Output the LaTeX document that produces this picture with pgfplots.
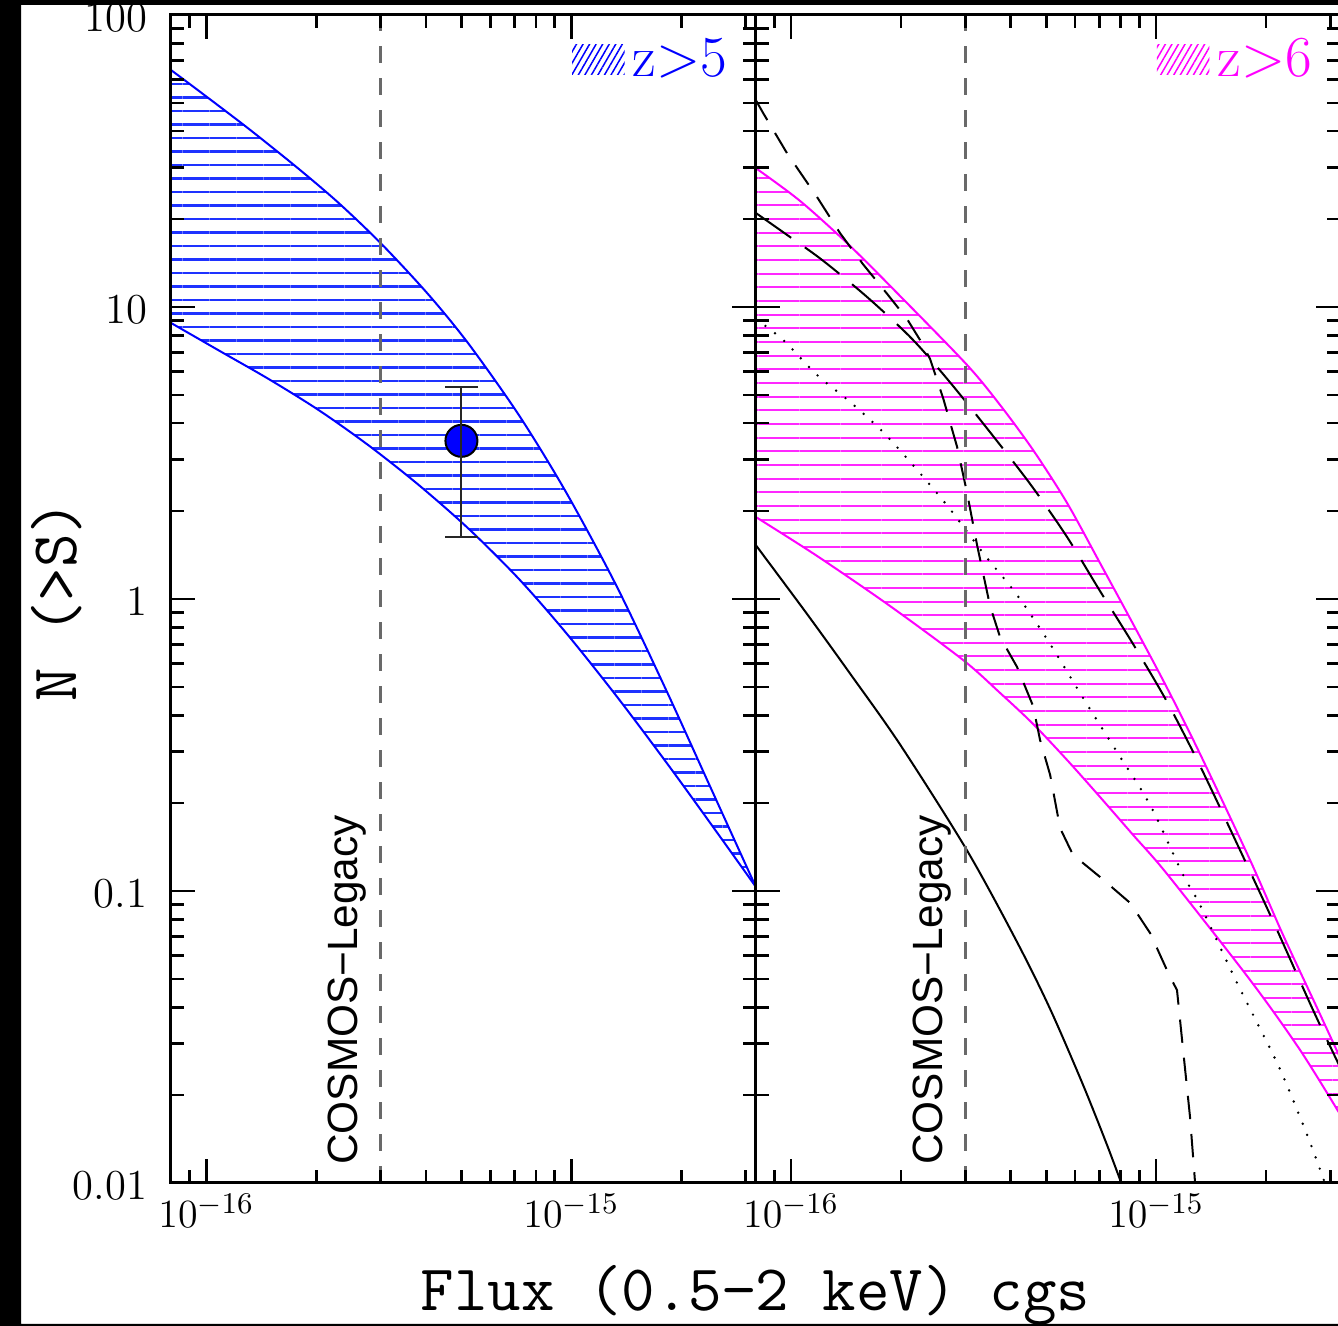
\documentclass[border=0pt]{standalone}
\usepackage{fontspec}
\newfontfamily\cosmosfont{Liberation Sans}
\usepackage{pgfplots}
\pgfplotsset{compat=1.18}
\usetikzlibrary{patterns.meta}

\definecolor{bandblue}{RGB}{0,0,255}
\definecolor{hatchblue}{RGB}{30,50,255}
\definecolor{bandmag}{RGB}{255,0,255}
\definecolor{hatchmag}{RGB}{255,40,255}
\definecolor{limgray}{RGB}{105,105,105}

\tikzset{
  cosmoslabel/.style={rotate=90, anchor=base west, inner sep=0pt,
    font=\cosmosfont\fontsize{12.7}{14}\selectfont},
  zlabeltext/.style={anchor=base east, inner sep=0pt, font=\fontsize{17.4}{20}\selectfont},
}

% band boundaries (flux, N(>S))
\pgfplotstableread{
x         y
8e-17     64.8
9.57e-17  54.8
1.312e-16 40.6
1.798e-16 29.6
2.314e-16 22.6
3.035e-16 16.33
4.083e-16 10.94
5.255e-16 7.42
7.20e-16  4.246
9.69e-16  2.312
1.329e-15 1.110
1.820e-15 0.487
2.388e-15 0.2311
3.2e-15   0.1035
}\zfiveup
\pgfplotstableread{
x         y
8e-17     8.82
1.085e-16 7.085
1.488e-16 5.649
2.040e-16 4.42
2.796e-16 3.344
3.834e-16 2.447
5.255e-16 1.731
7.20e-16  1.168
9.69e-16  0.7637
1.329e-15 0.4654
1.820e-15 0.2759
2.388e-15 0.1727
3.2e-15   0.1035
}\zfivelo
\pgfplotstableread{
x          y
8e-17      29.9
1.0585e-16 23.07
1.451e-16  16.18
1.988e-16  10.91
3.035e-16  6.33
3.738e-16  4.617
4.603e-16  3.237
5.704e-16  2.132
7.02e-16   1.328
8.65e-16   0.821
1.072e-15  0.4956
1.320e-15  0.2945
1.809e-15  0.1277
2.228e-15  0.07068
2.762e-15  0.03975
3.2e-15    0.0267
}\zsixup
\pgfplotstableread{
x          y
8e-17      1.91
1.178e-16  1.404
1.867e-16  0.946
2.96e-16   0.618
3.738e-16  0.4766
4.603e-16  0.3733
5.704e-16  0.2809
7.02e-16   0.2099
8.65e-16   0.1556
1.072e-15  0.1143
1.809e-15  0.0496
2.48e-15   0.02854
3.2e-15    0.0171
}\zsixlo

\pgfplotsset{
  hatchblue/.style={draw=none, pattern={Lines[angle=0,distance=4.05pt,line width=0.68pt]},
    pattern color=hatchblue},
  hatchmag/.style={draw=none, pattern={Lines[angle=0,distance=4.1pt,line width=0.62pt]},
    pattern color=hatchmag},
}

\begin{document}
\begin{tikzpicture}
\fill[white] (0,0) rectangle (401.4pt,397.8pt);

% ---------------- left panel: z > 5 ----------------
\begin{axis}[name=L, at={(51.3pt,42.9pt)}, anchor=south west,
    scale only axis, width=175.43pt, height=350.4pt,
    xmode=log, ymode=log,
    xmin=8e-17, xmax=3.2e-15, ymin=0.01, ymax=100,
    xtick={1e-16,1e-15},
    minor xtick={8e-17,9e-17,2e-16,3e-16,4e-16,5e-16,6e-16,7e-16,8e-16,9e-16,2e-15,3e-15},
    ytick={0.01,0.1,1,10,100},
    yticklabels={0.01,0.1,1,10,100},
    minor ytick={0.02,0.03,0.04,0.05,0.06,0.07,0.08,0.09,
                 0.2,0.3,0.4,0.5,0.6,0.7,0.8,0.9,
                 2,3,4,5,6,7,8,9,20,30,40,50,60,70,80,90},
    tick align=inside,
    major tick length=7.2pt, minor tick length=3.9pt,
    tick style={black, line width=0.8pt},
    axis line style={black, line width=0.9pt},
    axis on top, clip mode=individual,
    ticklabel style={font=\fontsize{12.8}{14}\selectfont},
    xticklabel style={anchor=base, inner sep=0pt, yshift=-13.5pt},
    yticklabel style={anchor=east, inner sep=0pt, xshift=-6.9pt, yshift=-0.8pt},
  ]
  % hatched region: upper edge out, lower edge back
  \addplot[hatchblue] coordinates {
    (8e-17,64.8) (9.57e-17,54.8) (1.312e-16,40.6) (1.798e-16,29.6)
    (2.314e-16,22.6) (3.035e-16,16.33) (4.083e-16,10.94) (5.255e-16,7.42)
    (7.20e-16,4.246) (9.69e-16,2.312) (1.329e-15,1.110) (1.820e-15,0.487)
    (2.388e-15,0.2311) (3.2e-15,0.1035)
    (2.388e-15,0.1727) (1.820e-15,0.2759) (1.329e-15,0.4654) (9.69e-16,0.7637)
    (7.20e-16,1.168) (5.255e-16,1.731) (3.834e-16,2.447) (2.796e-16,3.344)
    (2.040e-16,4.42) (1.488e-16,5.649) (1.085e-16,7.085) (8e-17,8.82)};
  \addplot[bandblue, line width=0.6pt, smooth] table {\zfiveup};
  \addplot[bandblue, line width=0.6pt, smooth] table {\zfivelo};

  % survey flux limit
  \addplot[limgray, line width=1pt, dash pattern=on 5.2pt off 4.4pt]
    coordinates {(3e-16,0.01) (3e-16,100)};
  \node[cosmoslabel] at (axis cs:2.6e-16,0.0115) {COSMOS−Legacy};

  % measured point with its error bar on top
  \addplot[only marks, mark=*, mark size=4.8pt,
    mark options={fill=bandblue, draw=black, line width=0.6pt}]
    coordinates {(5e-16,3.48)};
  \addplot[black!85, line width=0.6pt, mark=-, mark size=5pt,
    mark options={line width=0.6pt}]
    coordinates {(5e-16,1.63) (5e-16,5.32)};

  \fill[pattern={Lines[angle=60,distance=1.7pt,line width=0.45pt]}, pattern color=bandblue]
    (rel axis cs:0.686,0.9486) rectangle (rel axis cs:0.776,0.9743);
  \node[zlabeltext, text=bandblue] at (rel axis cs:0.9525,0.947) {z>5};
\end{axis}

% ---------------- right panel: z > 6 ----------------
\begin{axis}[at={(L.south east)}, anchor=south west,
    scale only axis, width=175.43pt, height=350.4pt,
    xmode=log, ymode=log,
    xmin=8e-17, xmax=3.2e-15, ymin=0.01, ymax=100,
    xtick={1e-16,1e-15},
    minor xtick={8e-17,9e-17,2e-16,3e-16,4e-16,5e-16,6e-16,7e-16,8e-16,9e-16,2e-15,3e-15},
    ytick={0.01,0.1,1,10,100},
    yticklabels={},
    minor ytick={0.02,0.03,0.04,0.05,0.06,0.07,0.08,0.09,
                 0.2,0.3,0.4,0.5,0.6,0.7,0.8,0.9,
                 2,3,4,5,6,7,8,9,20,30,40,50,60,70,80,90},
    tick align=inside,
    major tick length=7.2pt, minor tick length=3.9pt,
    tick style={black, line width=0.8pt},
    axis line style={black, line width=0.9pt},
    axis on top,
    ticklabel style={font=\fontsize{12.8}{14}\selectfont},
    xticklabel style={anchor=base, inner sep=0pt, yshift=-13.5pt},
  ]
  \addplot[hatchmag] coordinates {
    (8e-17,29.9) (1.0585e-16,23.07) (1.451e-16,16.18) (1.988e-16,10.91)
    (3.035e-16,6.33) (3.738e-16,4.617) (4.603e-16,3.237) (5.704e-16,2.132)
    (7.02e-16,1.328) (8.65e-16,0.821) (1.072e-15,0.4956) (1.320e-15,0.2945)
    (1.809e-15,0.1277) (2.228e-15,0.07068) (2.762e-15,0.03975) (3.2e-15,0.0267)
    (3.2e-15,0.0171) (2.48e-15,0.02854) (1.809e-15,0.0496) (1.072e-15,0.1143)
    (8.65e-16,0.1556) (7.02e-16,0.2099) (5.704e-16,0.2809) (4.603e-16,0.3733)
    (3.738e-16,0.4766) (2.96e-16,0.618) (1.867e-16,0.946) (1.178e-16,1.404)
    (8e-17,1.91)};
  \addplot[bandmag, line width=0.6pt, smooth] table {\zsixup};
  \addplot[bandmag, line width=0.6pt, smooth] table {\zsixlo};

  % model curves
  \addplot[black, line width=0.6pt, smooth] coordinates {
    (8e-17,1.531) (1.106e-16,0.8884) (1.451e-16,0.5553) (1.988e-16,0.3177)
    (3.035e-16,0.1376) (4.16e-16,0.06687) (5.125e-16,0.03945) (6.31e-16,0.02166)
    (7.34e-16,0.01349) (8.1e-16,0.0097)};
  \addplot[black, line width=0.6pt, dash pattern=on 7pt off 4.5pt] coordinates {
    (8e-17,51.2) (8.38e-17,46.2) (9.75e-17,33.6) (1.178e-16,23.8)
    (1.362e-16,17.9) (1.575e-16,14.0) (1.832e-16,11.1) (2.078e-16,9.10)
    (2.256e-16,7.71) (2.403e-16,6.64) (2.609e-16,4.88) (2.85e-16,3.32)
    (3.035e-16,2.31) (3.233e-16,1.53) (3.509e-16,0.946) (3.738e-16,0.741)
    (4.16e-16,0.585) (4.603e-16,0.430) (4.81e-16,0.329) (5.125e-16,0.250)
    (5.46e-16,0.164) (5.92e-16,0.133) (7.02e-16,0.1117) (8.49e-16,0.0910)
    (9.63e-16,0.0718) (1.092e-15,0.0508) (1.141e-15,0.0458) (1.186e-15,0.0285)
    (1.239e-15,0.0168) (1.279e-15,0.01)};
  \addplot[black, line width=0.6pt, dash pattern=on 13pt off 5pt, smooth] coordinates {
    (8e-17,21.0) (9.75e-17,17.65) (1.216e-16,14.49) (1.626e-16,10.74)
    (2.159e-16,7.71) (2.779e-16,5.36) (3.738e-16,3.37) (4.603e-16,2.40)
    (5.704e-16,1.63) (7.02e-16,1.065) (8.65e-16,0.701) (1.072e-15,0.444)
    (1.32e-15,0.268) (1.698e-15,0.1381) (2.091e-15,0.0789) (2.692e-15,0.0391)
    (3.2e-15,0.02477)};
  \addplot[black, line width=0.8pt, dash pattern=on 0pt off 3.6pt, line cap=round, smooth]
    coordinates {
    (8e-17,9.1) (9.51e-17,7.71) (1.178e-16,5.85) (1.451e-16,4.73)
    (1.786e-16,3.73) (2.214e-16,2.77) (2.727e-16,2.03) (3.357e-16,1.437)
    (4.16e-16,1.032) (5.125e-16,0.701) (6.31e-16,0.458) (7.82e-16,0.299)
    (9.63e-16,0.197) (1.186e-15,0.1135) (1.32e-15,0.0895) (1.667e-15,0.0484)
    (2.145e-15,0.0258) (2.48e-15,0.0168) (2.69e-15,0.01297) (2.9e-15,0.01)};

  \addplot[limgray, line width=1pt, dash pattern=on 5.2pt off 4.4pt]
    coordinates {(3e-16,0.01) (3e-16,100)};
  \node[cosmoslabel] at (axis cs:2.6e-16,0.0115) {COSMOS−Legacy};

  \fill[pattern={Lines[angle=60,distance=1.7pt,line width=0.45pt]}, pattern color=bandmag]
    (rel axis cs:0.686,0.9486) rectangle (rel axis cs:0.776,0.9743);
  \node[zlabeltext, text=bandmag] at (rel axis cs:0.9525,0.947) {z>6};
\end{axis}

% axis titles
\node[font=\ttfamily\fontsize{19.5}{22}\selectfont, anchor=base, inner sep=0pt]
  at (226.7pt,4.5pt) {Flux (0.5−2 keV) cgs};
\node[font=\ttfamily\fontsize{19.5}{22}\selectfont, rotate=90, anchor=center, inner sep=0pt]
  at (17.1pt,217.4pt) {N (>S)};

% dark frame strips
\fill[black, even odd rule] (0,0) rectangle (401.4pt,397.8pt)
  (6.3pt,0.6pt) rectangle (401.4pt,396.3pt);

\pgfresetboundingbox
\path[use as bounding box] (0,0) rectangle (401.4pt,397.8pt);
\end{tikzpicture}
\end{document}
